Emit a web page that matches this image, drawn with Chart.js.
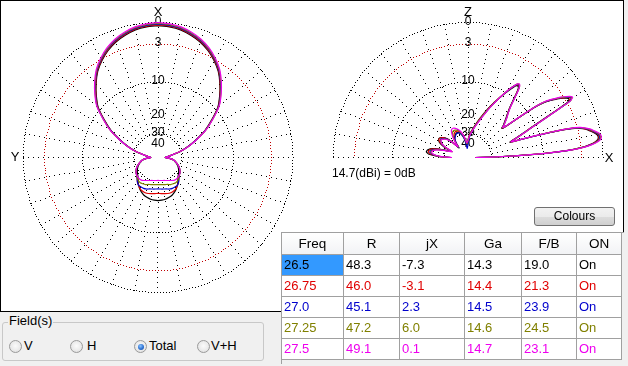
<!DOCTYPE html>
<html><head><meta charset="utf-8">
<script src="https://cdn.jsdelivr.net/npm/chart.js@4.4.0/dist/chart.umd.min.js"></script>
<style>
html,body{margin:0;padding:0;}
body{width:628px;height:366px;background:#f0f0f0;position:relative;overflow:hidden;font-family:"Liberation Sans",Arial,sans-serif;}
#panel{position:absolute;left:0;top:0;width:622px;height:310px;border:1px solid #000;background:#fff;}
canvas{position:absolute;}
#ref{position:absolute;left:332px;top:166px;font-size:12px;color:#000;white-space:nowrap;}
#btn{position:absolute;left:534px;top:207px;width:79px;height:17px;border:1px solid #707070;border-radius:3px;background:linear-gradient(#f2f2f2,#ebebeb 50%,#dddddd 51%,#cfcfcf);font-size:12px;line-height:17px;text-align:center;color:#000;}
#frame{position:absolute;left:281px;top:232px;width:342px;height:131px;background:#f0f0f0;border-left:1px solid #a0a0a0;border-top:1px solid #a0a0a0;}
.cell{position:absolute;box-sizing:border-box;border-right:1px solid #a0a0a0;border-bottom:1px solid #a0a0a0;background:#fff;font-size:13px;line-height:20px;padding-left:2px;white-space:nowrap;overflow:hidden;}
.hdr{background:linear-gradient(#ffffff,#f2f3f5);text-align:center;padding-left:0;line-height:21px;font-size:13.5px;}
#grp{position:absolute;left:2px;top:322px;width:260px;height:37px;border:1px solid #c8c8c8;border-radius:3px;}
#legend{position:absolute;left:8px;top:313px;font-size:13px;background:#f0f0f0;padding:0 1px;line-height:16px;}
.rb{position:absolute;width:11px;height:11px;border:1px solid #9a9a9a;border-radius:50%;background:radial-gradient(circle at 50% 45%,#fbfbfb 0,#e9e9e9 60%,#d8d8d8 100%);}
.rb.on::after{content:"";position:absolute;left:2.5px;top:2.5px;width:6px;height:6px;border-radius:50%;background:radial-gradient(circle at 40% 35%,#8cc4ff 0,#2e72d2 55%,#1a4a9a 100%);}
.rl{position:absolute;font-size:13px;line-height:16px;}
</style>
</head>
<body>
<div id="panel"></div>
<canvas id="az" width="314" height="310" style="left:1px;top:1px;width:314px;height:310px"></canvas>
<canvas id="el" width="306" height="310" style="left:316px;top:1px;width:306px;height:310px"></canvas>
<div id="ref">14.7(dBi) = 0dB</div>
<div id="btn">Colours</div>
<div id="frame"></div>
<div id="cells"></div>
<div id="grp"></div>
<div id="legend">Field(s)</div>
<span class="rb" style="left:9px;top:340px"></span><span class="rl" style="left:24px;top:338px">V</span>
<span class="rb" style="left:70px;top:340px"></span><span class="rl" style="left:87px;top:338px">H</span>
<span class="rb on" style="left:134px;top:340px"></span><span class="rl" style="left:149px;top:338px">Total</span>
<span class="rb" style="left:197px;top:340px"></span><span class="rl" style="left:211px;top:338px">V+H</span>
<script>
// ---------- table data ----------
const freqs  = ['26.5','26.75','27.0','27.25','27.5'];
const rVals  = ['48.3','46.0','45.1','47.2','49.1'];
const jxVals = ['-7.3','-3.1','2.3','6.0','0.1'];
const gaVals = ['14.3','14.4','14.5','14.6','14.7'];
const fbVals = ['19.0','21.3','23.9','24.5','23.1'];
const onVals = ['On','On','On','On','On'];
const headers = ['Freq','R','jX','Ga','F/B','ON'];
const seriesColors = ['#000000','#e00000','#0000cc','#808000','#ee00ee'];
const refLabel = '14.7(dBi) = 0dB';

// ---------- azimuth pattern (dB, 0..180 deg from X, symmetric) ----------
const azAngles = [0,5,10,15,20,25,30,35,40,45,50,55,60,65,70,75,80,85,90,95,100,105,110,115,120,125,130,135,140,145,150,155,160,165,170,175,180];
const az_26_5  = [-0.4,-0.5,-0.7,-1.1,-1.6,-2.3,-3.2,-4.3,-5.8,-7.5,-9.4,-12.4,-15.6,-20,-24.9,-30.9,-39,-45,-50,-41,-36.5,-34.5,-32.5,-31,-29.8,-28.8,-27.9,-26.9,-25.2,-23.8,-22.5,-21.5,-20.7,-20.3,-19.9,-19.7,-19.6];
const az_26_75 = [-0.3,-0.4,-0.6,-1,-1.5,-2.2,-3.1,-4.2,-5.7,-7.4,-9.3,-12.3,-15.5,-19.9,-24.8,-30.8,-39,-45,-50,-41,-36,-34,-31.8,-30,-28.8,-27.8,-27.2,-26.1,-24.7,-23.7,-22.7,-22.2,-22,-22.1,-22.4,-22.6,-22.7];
const az_27_0  = [-0.2,-0.3,-0.5,-0.9,-1.4,-2.1,-3,-4.1,-5.6,-7.3,-9.2,-12.2,-15.4,-19.8,-24.7,-30.7,-39,-45,-50,-41,-36,-34,-31.8,-30,-28.8,-27.8,-27.2,-26.1,-24.7,-23.7,-23.7,-23.6,-23.9,-24.4,-24.7,-24.9,-25];
const az_27_25 = [-0.1,-0.2,-0.4,-0.8,-1.3,-2,-2.9,-4,-5.5,-7.2,-9.1,-12.1,-15.3,-19.7,-24.6,-30.6,-39,-45,-50,-41,-36,-34,-31.8,-30,-28.8,-27.8,-27.2,-26.3,-25.6,-25.3,-25.6,-25.9,-26.6,-27,-27.3,-27.5,-27.6];
const az_27_5  = [0,-0.1,-0.3,-0.7,-1.2,-1.9,-2.8,-3.9,-5.4,-7.1,-9,-12,-15.2,-19.6,-24.5,-30.5,-39,-45,-50,-41,-36,-34,-31.8,-30,-28.8,-27.8,-27.2,-26.9,-26.8,-27.1,-27.9,-28.7,-29.3,-29.8,-30.1,-30.3,-30.4];

// ---------- elevation pattern (dB, 0..180 deg from X horizon) ----------
const elAngles = [0,1,2,3,4,5,6,7,8,9,10,11,12,13,14,15,16,17,18,19,20,21,22,23,24,25,26,27,28,29,30,31,32,33,34,35,36,37,38,39,40,41,42,44,46,48,50,52,53,54,55,56,57,58,60,62,65,68,72,76,80,85,88,90,95,100,105,110,115,118,122,126,130,133,136,140,145,148,152,156,160,163,166,169,172,175,178,180];
const el_26_5  = [-50,-30.5,-18.5,-10,-5.4,-3,-1.7,-0.9,-0.5,-0.4,-0.5,-0.8,-1.2,-1.6,-2.2,-3,-4.8,-8,-12,-16,-19,-18,-16.5,-15,-13.5,-12,-10,-7.8,-5.3,-2.9,-2.5,-2.7,-3.2,-3.8,-4.6,-5.4,-6.4,-8.3,-12,-16,-18.5,-19,-18,-16.8,-15.5,-14.2,-12.6,-10.2,-8.8,-7.8,-7.5,-7.6,-8.1,-8.8,-10.2,-11.8,-14,-16.3,-19.6,-22.8,-26,-29.5,-32.5,-35,-40,-34,-30,-28,-27.5,-28,-29,-31,-35,-40,-30,-25.5,-23.5,-23.3,-24.5,-28,-34,-28,-22.5,-20.5,-20,-21,-26,-34];
const el_26_75 = [-50,-30.3,-18.3,-9.8,-5.3,-2.9,-1.6,-0.8,-0.4,-0.3,-0.4,-0.7,-1.1,-1.5,-2.1,-2.9,-4.6,-7.8,-11.8,-15.8,-18.8,-17.8,-16.3,-14.8,-13.3,-11.8,-9.8,-7.6,-5.1,-2.7,-2.3,-2.5,-3.1,-3.7,-4.5,-5.3,-6.3,-8.1,-11.8,-15.8,-18.3,-18.8,-17.8,-16.6,-15.3,-14.1,-12.5,-10.1,-8.7,-7.6,-7.3,-7.4,-7.9,-8.6,-10.1,-11.8,-14.2,-16.7,-20.1,-23.3,-26.5,-30,-33,-35.5,-39,-33,-29,-27,-26.5,-26.8,-28,-30,-34,-39,-30,-25.5,-23.7,-23.5,-25,-28.5,-35,-28.5,-23,-21.2,-20.8,-22,-26.5,-35];
const el_27_0  = [-50,-30.2,-18.2,-9.7,-5.2,-2.8,-1.5,-0.7,-0.3,-0.2,-0.3,-0.6,-1,-1.4,-2,-2.8,-4.5,-7.7,-11.7,-15.7,-18.7,-17.7,-16.2,-14.7,-13.2,-11.7,-9.7,-7.5,-5,-2.5,-2.1,-2.4,-3,-3.6,-4.4,-5.2,-6.2,-8,-11.7,-15.7,-18.2,-18.7,-17.7,-16.5,-15.2,-14,-12.4,-10,-8.6,-7.5,-7.2,-7.3,-7.8,-8.5,-10.1,-11.8,-14.4,-17,-20.5,-23.8,-27,-31,-36,-40,-46,-35,-30,-28.2,-28,-28.4,-29.5,-31,-35,-39,-31,-26,-24.5,-24.5,-25.8,-29,-35.5,-29,-24,-22,-21.5,-22.8,-27,-35.5];
const el_27_25 = [-50,-30.1,-18.1,-9.6,-5.1,-2.7,-1.4,-0.6,-0.2,-0.1,-0.2,-0.5,-0.9,-1.3,-1.9,-2.7,-4.4,-7.6,-11.6,-15.6,-18.6,-17.6,-16.1,-14.6,-13.1,-11.6,-9.6,-7.4,-4.9,-2.4,-2,-2.3,-2.9,-3.5,-4.3,-5.1,-6.1,-7.9,-11.6,-15.6,-18.1,-18.6,-17.6,-16.4,-15.1,-13.9,-12.3,-9.9,-8.5,-7.4,-7.1,-7.2,-7.7,-8.4,-10,-11.7,-14.3,-16.9,-20.4,-23.6,-26.7,-30.3,-33.5,-36,-39,-33,-28.8,-26.5,-25.7,-25.5,-26.3,-29,-33.5,-38.5,-31,-26.5,-24.8,-24.6,-25.8,-29.5,-35.8,-29.5,-24.5,-22.4,-22,-23.2,-27.5,-36];
const el_27_5  = [-50,-30,-18,-9.5,-5,-2.6,-1.3,-0.5,-0.1,0,-0.1,-0.4,-0.8,-1.2,-1.8,-2.6,-4.3,-7.5,-11.5,-15.5,-18.5,-17.5,-16,-14.5,-13,-11.5,-9.5,-7.3,-4.8,-2.4,-1.9,-2.2,-2.8,-3.4,-4.2,-5,-6,-7.8,-11.5,-15.5,-18,-18.5,-17.5,-16.3,-15,-13.8,-12.2,-9.8,-8.4,-7.4,-7,-7.2,-7.7,-8.4,-10,-11.7,-14.5,-17.2,-20.8,-24,-27,-30.5,-33.5,-35.5,-38,-32,-28,-25.8,-24.5,-24.2,-25,-28,-33,-38,-31,-27,-25,-24.8,-26,-30,-36,-30,-25,-22.8,-22.3,-23.5,-28,-36.5];

// ---------- grid ----------
const ringDb = [0,-3,-10,-30];
const ringColors = ['#000000','#c00000','#000000','#000000'];
const labelDb = [0,-3,-10,-20,-30,-40];
const labelText = ['0','3','10','20','30','40'];
const spokeStepDeg = 10;
const spokeInnerDb = -30;

const azSeries = [az_26_5, az_26_75, az_27_0, az_27_25, az_27_5];
const elSeries = [el_26_5, el_26_75, el_27_0, el_27_25, el_27_5];

// ARRL log scale: radius fraction for a dB value
function toR(db){ return Math.pow(0.89, -db/2); }

function azPoints(vals){
  const pts = [];
  for (let i = 0; i < azAngles.length; i++) {
    const t = azAngles[i]*Math.PI/180, r = toR(vals[i]);
    pts.push({x: -r*Math.sin(t), y: r*Math.cos(t)});
  }
  for (let i = azAngles.length-2; i >= 0; i--) {
    const t = azAngles[i]*Math.PI/180, r = toR(vals[i]);
    pts.push({x: r*Math.sin(t), y: r*Math.cos(t)});
  }
  return pts;
}
function elPoints(vals){
  return elAngles.map((a,i)=>{ const t=a*Math.PI/180, r=toR(vals[i]); return {x:r*Math.cos(t), y:r*Math.sin(t)}; });
}

const gridPlugin = {
  id: 'polarGrid',
  beforeDatasetsDraw(chart, args, o){
    const ctx = chart.ctx, xs = chart.scales.x, ys = chart.scales.y;
    const cx = xs.getPixelForValue(0), cy = ys.getPixelForValue(0);
    const u = xs.getPixelForValue(1) - cx;
    const dot = (x,y) => ctx.fillRect(Math.round(x-0.5), Math.round(y-0.5), 1, 1);
    ctx.save();
    ctx.fillStyle = '#000';
    const rin = toR(spokeInnerDb)*u, rout = u;
    const maxDeg = o.half ? 180 : 350;
    for (let d = 0; d <= maxDeg; d += spokeStepDeg) {
      const t = d*Math.PI/180;
      for (let r = rout; r >= rin; r -= 5) dot(cx + r*Math.cos(t), cy - r*Math.sin(t));
    }
    ringDb.forEach((db,i)=>{
      ctx.fillStyle = ringColors[i];
      const rr = toR(db)*u;
      const n = Math.round(2*Math.PI*rr/3);
      for (let k = 0; k < n; k++) {
        const t = k*2*Math.PI/n;
        if (o.half && Math.sin(t) < -0.001) continue;
        dot(cx + rr*Math.cos(t), cy - rr*Math.sin(t));
      }
    });
    ctx.fillStyle = '#000';
    ctx.textAlign = 'center';
    ctx.textBaseline = 'middle';
    ctx.font = '12px "Liberation Sans", Arial, sans-serif';
    labelDb.forEach((db,i)=> ctx.fillText(labelText[i], cx, cy - toR(db)*u - 1));
    ctx.font = '13px "Liberation Sans", Arial, sans-serif';
    o.axisLabels.forEach(l => ctx.fillText(l.text, cx + l.dx, cy + l.dy));
    ctx.restore();
  }
};

function makeChart(id, datasets, xr, yr, gridOpts){
  return new Chart(document.getElementById(id), {
    type: 'scatter',
    data: { datasets },
    options: {
      responsive: false, animation: false, devicePixelRatio: 1, events: [],
      layout: { padding: 0 },
      scales: {
        x: { type: 'linear', display: false, min: xr[0], max: xr[1] },
        y: { type: 'linear', display: false, min: yr[0], max: yr[1] }
      },
      plugins: { legend: { display: false }, tooltip: { enabled: false }, polarGrid: gridOpts }
    },
    plugins: [gridPlugin]
  });
}
function ds(points, i, tension){
  return { data: points, showLine: true, borderColor: seriesColors[i], borderWidth: 1.2, pointRadius: 0, tension: tension, fill: false, order: 4 - i };
}

const U = 135; // px per 0 dB radius
makeChart('az', azSeries.map((s,i)=>ds(azPoints(s), i, 0.2)),
  [-157/U, 157/U], [-153.5/U, 156.5/U],
  { half: false, axisLabels: [{text:'X', dx:0, dy:-145}, {text:'Y', dx:-143, dy:0}] });
makeChart('el', elSeries.map((s,i)=>ds(elPoints(s), i, 0.15)),
  [-152/U, 154/U], [-153.5/U, 156.5/U],
  { half: true, axisLabels: [{text:'Z', dx:0, dy:-145}, {text:'X', dx:141, dy:1}] });

document.getElementById('ref').textContent = refLabel;

// ---------- table ----------
const colEdges = [282,344,400,465,522,577,622];
const rowEdges = [233,255,276,297,318,339,360];
const cellsEl = document.getElementById('cells');
function addCell(text, c, r, cls, color, bg){
  const d = document.createElement('div');
  d.className = 'cell' + (cls ? ' ' + cls : '');
  d.style.left = colEdges[c] + 'px'; d.style.top = rowEdges[r] + 'px';
  d.style.width = (colEdges[c+1]-colEdges[c]) + 'px'; d.style.height = (rowEdges[r+1]-rowEdges[r]) + 'px';
  if (color) d.style.color = color;
  if (bg) d.style.background = bg;
  d.textContent = text;
  cellsEl.appendChild(d);
}
headers.forEach((h,c)=>addCell(h, c, 0, 'hdr', '#000'));
const cols = [freqs, rVals, jxVals, gaVals, fbVals, onVals];
freqs.forEach((f,i)=>{
  cols.forEach((arr,c)=>{
    const sel = (i===0 && c===0);
    addCell(arr[i], c, i+1, '', sel ? '#000' : seriesColors[i], sel ? '#3399ff' : null);
  });
});
</script>
</body></html>
